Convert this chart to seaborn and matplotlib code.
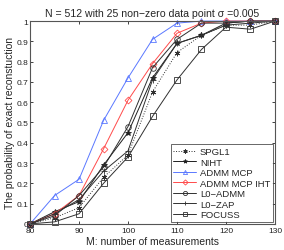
import pandas as pd
import seaborn as sns
import matplotlib.pyplot as plt

# measurements
M = [80, 85, 90, 95, 100, 105, 110, 115, 120, 125, 130]

# probability of exact reconstruction
spgl1 = [0, 0.03, 0.08, 0.23, 0.34, 0.65, 0.845, 0.93, 0.98, 0.98, 1.0]
niht = [0, 0.06, 0.11, 0.29, 0.45, 0.72, 0.89, 0.93, 0.99, 1.0, 1.0]
admm_mcp = [0, 0.14, 0.22, 0.51, 0.72, 0.91, 0.99, 1.0, 1.0, 1.0, 1.0]
admm_mcp_iht = [0, 0.05, 0.14, 0.37, 0.61, 0.79, 0.94, 0.99, 1.0, 1.0, 1.0]
l0_admm = [0, 0.04, 0.14, 0.28, 0.48, 0.77, 0.91, 0.99, 0.99, 1.0, 1.0]
l0_zap = [0, 0.05, 0.12, 0.26, 0.36, 0.71, 0.89, 0.93, 0.98, 0.99, 1.0]
focuss = [0, 0.01, 0.05, 0.20, 0.33, 0.53, 0.71, 0.86, 0.97, 0.96, 1.0]

series = [
    ("SPGL1", spgl1, "#303030", (6, 2, 0), ":"),
    ("NIHT", niht, "#202020", "*", "-"),
    ("ADMM MCP", admm_mcp, "#5a78ff", "^", "-"),
    ("ADMM MCP IHT", admm_mcp_iht, "#ff4a4a", "D", "-"),
    ("L0\u2212ADMM", l0_admm, "#303030", "o", "-"),
    ("L0\u2212ZAP", l0_zap, "#303030", "+", "-"),
    ("FOCUSS", focuss, "#303030", "s", "-"),
]

sns.set_style("ticks")
plt.rcParams["font.family"] = ["Liberation Sans", "DejaVu Sans"]

fig = plt.figure(figsize=(2.84, 2.51), dpi=100)
ax = fig.add_axes([0.106, 0.104, 0.862, 0.808])

for name, vals, col, mk, ls in series:
    df = pd.DataFrame({"M": M, "p": vals})
    filled = mk in ("*", "+") or isinstance(mk, tuple)
    sns.lineplot(data=df, x="M", y="p", ax=ax, color=col, linestyle=ls,
                 linewidth=0.7, marker=mk, markersize=4 if mk != "D" else 3.5,
                 markerfacecolor=col if filled else "none",
                 markeredgecolor=col, markeredgewidth=0.6,
                 label=name, clip_on=False)

ax.set_xlim(80, 130)
ax.set_ylim(0, 1)
ax.set_xticks(range(80, 131, 10))
ax.set_yticks([i / 10 for i in range(11)])
ax.set_yticklabels(["0"] + [f"{i/10:.1f}" for i in range(1, 10)] + ["1"])
ax.tick_params(direction="in", length=2.5, width=0.6, labelsize=6,
               top=True, right=True, pad=1.5, colors="#222222")
ax.tick_params(axis="x", pad=2.5)
for sp in ax.spines.values():
    sp.set_linewidth(0.8)
    sp.set_color("#555555")

ax.set_xlabel("M: number of measurements", fontsize=7.5, labelpad=1)
ax.set_ylabel("The probability of exact reconstuction", fontsize=7.5, labelpad=1)
ax.set_title("N = 512 with 25 non\u2212zero data point \u03c3 =0.005", fontsize=7.6, pad=4)

leg = ax.legend(loc="lower right", fontsize=6.8, frameon=True, fancybox=False,
                edgecolor="#222222", borderpad=0.3, labelspacing=0.16,
                handlelength=2.4, handletextpad=0.4, borderaxespad=0.2,
                markerscale=0.75)
leg.get_frame().set_linewidth(0.6)

fig.savefig("out.png", dpi=100)
